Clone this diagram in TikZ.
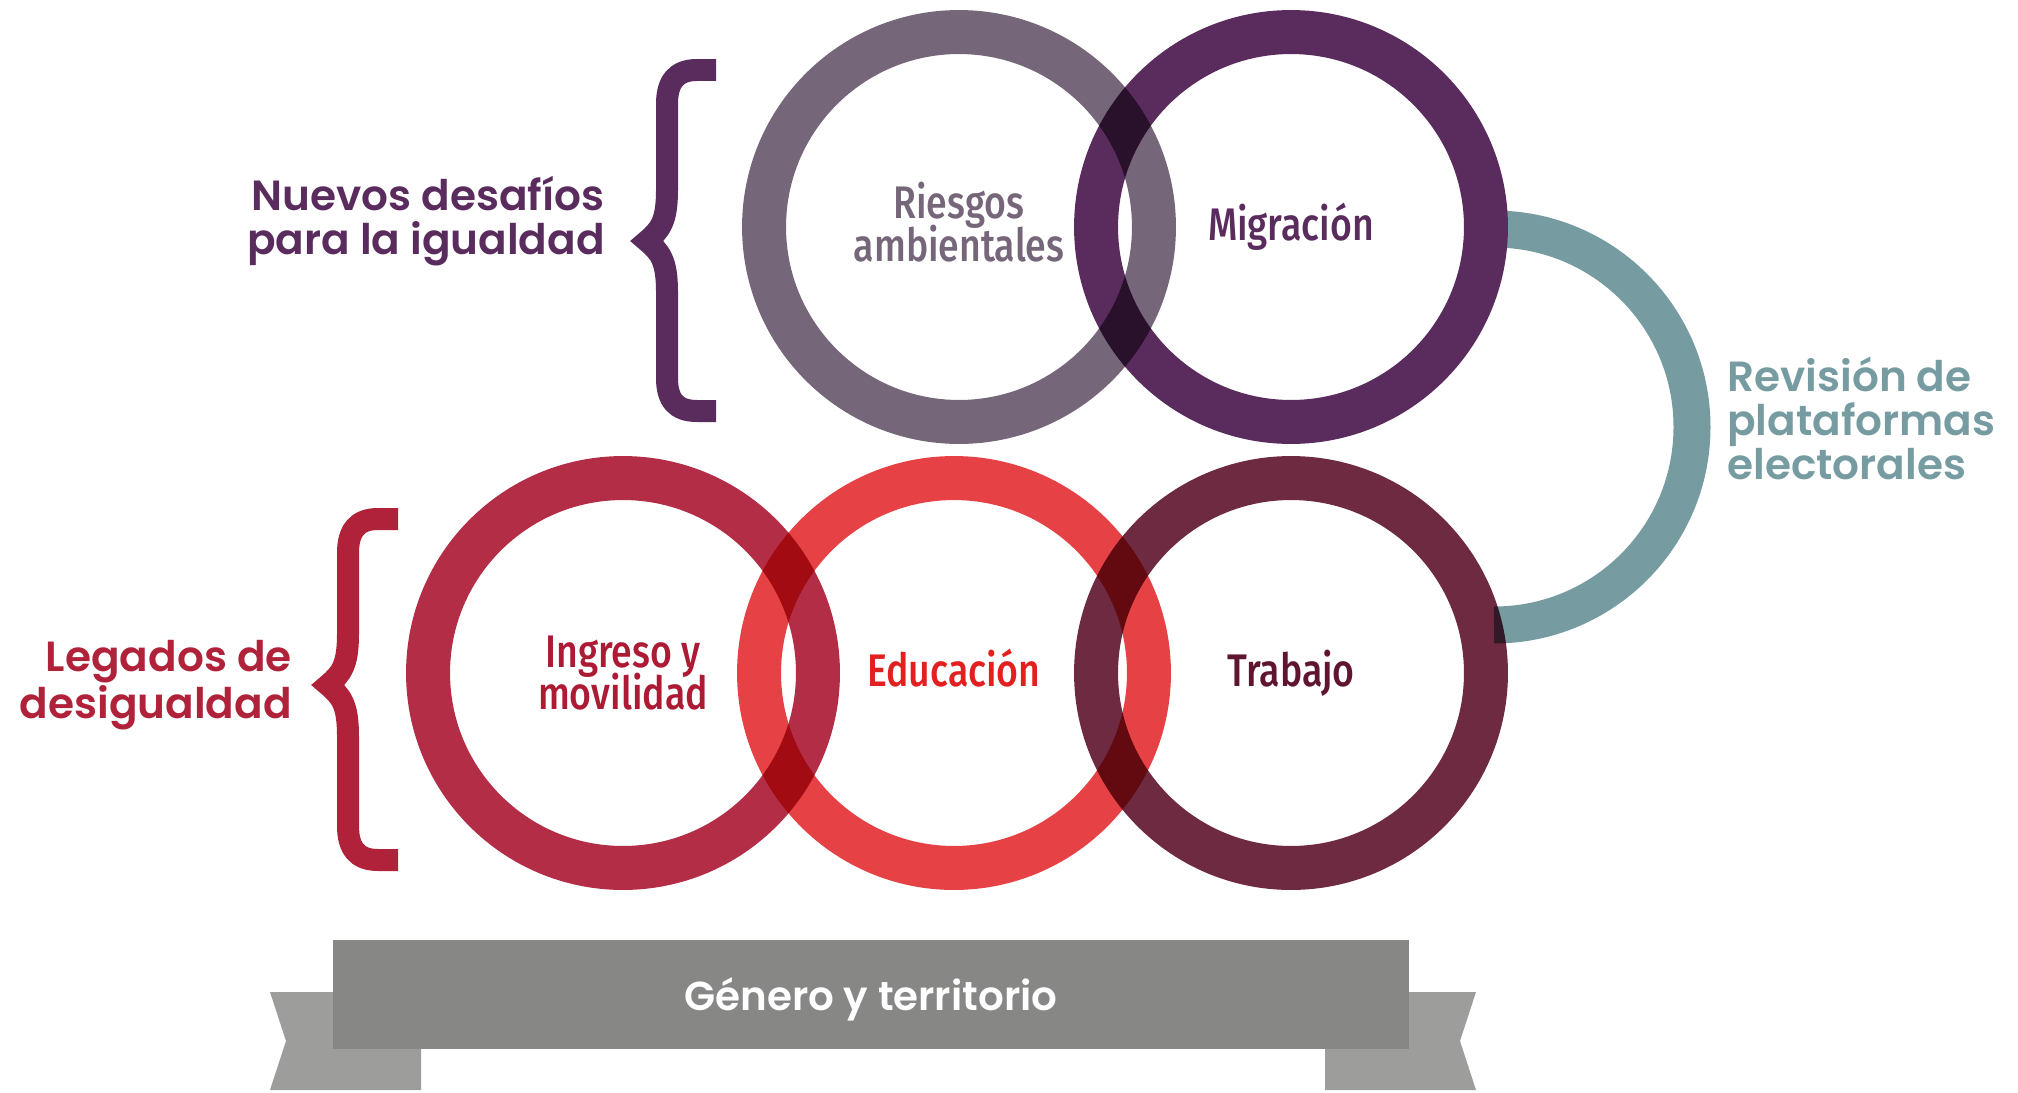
\documentclass[tikz,border=0pt]{standalone}
\usepackage{fontspec}
\setmainfont{Poppins}[UprightFont=* SemiBold]
\newfontfamily\ringfont{Fira Sans}[UprightFont=* Medium, FakeStretch=0.82]

\definecolor{riesgo}{HTML}{756779}
\definecolor{migra}{HTML}{5A2C5E}
\definecolor{revi}{HTML}{769CA2}
\definecolor{ingreso}{HTML}{B42D46}
\definecolor{ingtext}{HTML}{AC1A33}
\definecolor{educa}{HTML}{E64145}
\definecolor{edutext}{HTML}{E1201F}
\definecolor{trabajo}{HTML}{6E2A40}
\definecolor{trabtext}{HTML}{5F1530}
\definecolor{legado}{HTML}{B0223A}
\definecolor{banner}{HTML}{878786}
\definecolor{tail}{HTML}{9D9D9C}

\tikzset{
    ring/.style={circle, draw=#1, line width=0.88cm, minimum size=7.8cm, inner sep=0pt,
        align=center, font={\ringfont\fontsize{26}{24.2}\selectfont\lineskiplimit=-100pt}},
    sidelabel/.style={inner sep=0pt, font=\fontsize{24}{25}\selectfont},
    brace/.style={line width=0.44cm, line join=miter, miter limit=10},
}

\begin{document}
\begin{tikzpicture}[x=0.02cm, y=-0.02cm]
    \useasboundingbox (0,0) rectangle (2018,1092);

    % teal link behind the right-hand rings
    \coordinate (RPtop) at (1494,229);
    \draw[revi, line width=0.74cm] (RPtop) arc[start angle=-90, end angle=90, radius=198];

    \node[ring=migra, text=migra] (MI) at (1291,227) {Migración};
    \begin{scope}[blend mode=multiply]
        \node[ring=riesgo, text=riesgo] (RA) at (959,227) {Riesgos\\ambientales\vphantom{g}};
        \node[ring=trabajo, text=trabtext] (TR) at (1291,673) {Trabajo};
        \node[ring=educa, text=edutext] (ED) at (954,673) {Educación\vphantom{j}};
        \node[ring=ingreso, text=ingtext] (IM) at (623,673) {Ingreso y\\movilidad};
    \end{scope}

    \node[sidelabel, text=revi, anchor=west, align=left] (RP) at (1727,418) {Revisión de\\plataformas\\electorales};
    \node[sidelabel, text=migra, anchor=east, align=right] (ND) at (605,221) {Nuevos desafíos\\para la igualdad};
    \node[sidelabel, text=legado, anchor=east, align=right] (LD) at (292,685) {Legados de\\desigualdad};

    % braces
    \draw[brace, migra] (716,70) -- (697,70) .. controls (676,70) and (667,82) .. (667,104)
        -- (667,190) .. controls (667,222) and (660,230) .. (647,241)
        .. controls (660,252) and (667,260) .. (667,292)
        -- (667,378) .. controls (667,400) and (676,411) .. (697,411) -- (716,411);
    \draw[brace, legado] (398,519) -- (378,519) .. controls (357,519) and (348,531) .. (348,553)
        -- (348,634) .. controls (348,666) and (341,674) .. (328,685)
        .. controls (341,696) and (348,704) .. (348,736)
        -- (348,826) .. controls (348,848) and (357,860) .. (378,860) -- (398,860);

    % ribbon
    \fill[tail] (270,992) -- (421,992) -- (421,1090) -- (270,1090) -- (286,1041) -- cycle;
    \fill[tail] (1476,992) -- (1325,992) -- (1325,1090) -- (1476,1090) -- (1460,1041) -- cycle;
    \node[fill=banner, minimum width=21.52cm, minimum height=2.18cm, inner sep=0pt,
        text=white, font=\fontsize{23}{26}\selectfont] (GT) at (871,994.5) {\raisebox{-9pt}[0pt][0pt]{Género y territorio}};
\end{tikzpicture}
\end{document}
